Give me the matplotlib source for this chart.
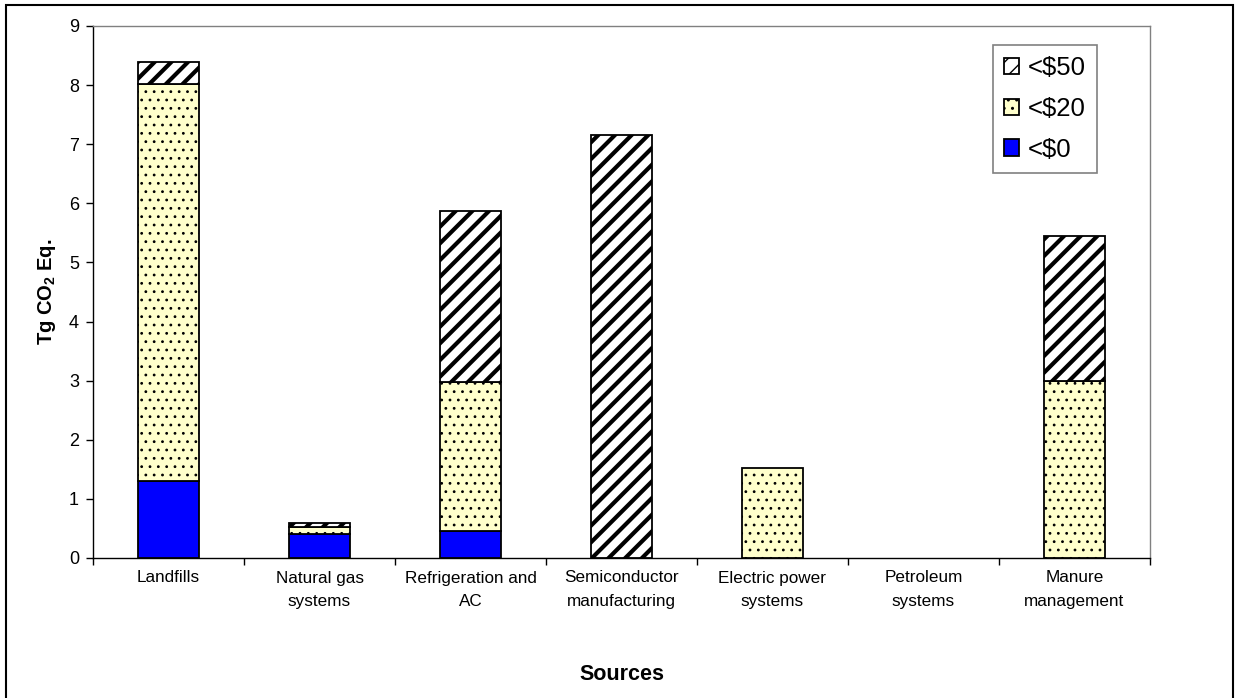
import numpy as np
import matplotlib
matplotlib.use("Agg")
import matplotlib.pyplot as plt
from matplotlib.patches import Rectangle

plt.rcParams['font.family'] = ['Liberation Sans', 'DejaVu Sans']

sources = ["Landfills", "Natural gas\nsystems", "Refrigeration and\nAC",
           "Semiconductor\nmanufacturing", "Electric power\nsystems",
           "Petroleum\nsystems", "Manure\nmanagement"]
below_0 = [1.30, 0.40, 0.45, 0.0, 0.0, 0.0, 0.0]
below_20 = [6.72, 0.13, 2.52, 0.0, 1.52, 0.0, 3.0]
below_50 = [0.37, 0.06, 2.90, 7.15, 0.0, 0.0, 2.45]
yticks = list(range(10))

W, H = 1235, 698
fig = plt.figure(figsize=(W / 100, H / 100), dpi=100)
ax = fig.add_axes([93 / W, 1 - 558 / H, (1150 - 93) / W, (558 - 26) / H])

x = np.arange(len(sources))
b0 = np.array(below_0)
b20 = np.array(below_20)
b50 = np.array(below_50)

kw = dict(width=0.4, edgecolor='black', linewidth=1.3, zorder=3)
bars0 = ax.bar(x, b0, color='#0000ff', label='<$0', **kw)
bars20 = ax.bar(x, b20, bottom=b0, color='#ffffcc', hatch='..', label='<$20', **kw)
bars50 = ax.bar(x, b50, bottom=b0 + b20, color='white', hatch='//', label='<$50', **kw)

# hide zero-height segments so they don't leave a line on the axis
for bars, vals in ((bars0, b0), (bars20, b20), (bars50, b50)):
    for bar, v in zip(bars, vals):
        if v <= 0:
            bar.set_visible(False)

# thick stripes, fine dots
for bar in bars50:
    if hasattr(bar, 'set_hatch_linewidth'):
        bar.set_hatch_linewidth(3.0)
for bar in bars20:
    if hasattr(bar, 'set_hatch_linewidth'):
        bar.set_hatch_linewidth(0.8)

ax.set_xlim(-0.5, len(sources) - 0.5)
ax.set_ylim(0, 9)
ax.set_yticks(yticks)
ax.tick_params(axis='y', direction='out', length=5, width=1, labelsize=13, pad=5)

# category boundaries get the tick marks, centres get the labels
ax.set_xticks(np.arange(len(sources) + 1) - 0.5)
ax.set_xticklabels([])
ax.set_xticks(x, minor=True)
ax.set_xticklabels(sources, minor=True, fontsize=12.3, linespacing=1.7)
ax.tick_params(axis='x', which='major', direction='out', length=5, width=1)
ax.tick_params(axis='x', which='minor', length=0, pad=9)

for side in ('top', 'right'):
    ax.spines[side].set_color('#808080')
    ax.spines[side].set_linewidth(1)
for side in ('left', 'bottom'):
    ax.spines[side].set_color('black')
    ax.spines[side].set_linewidth(1)

ax.set_ylabel('Tg CO$_\\mathregular{2}$ Eq.', fontsize=14.5, fontweight='bold', labelpad=8)
ax.set_xlabel('Sources', fontsize=15.5, fontweight='bold', labelpad=40)

handles = [bars50, bars20, bars0]
leg = ax.legend(handles, ['<$50', '<$20', '<$0'], loc='upper left',
                bbox_to_anchor=(993 / W, 1 - 45 / H), bbox_transform=fig.transFigure,
                borderaxespad=0, fontsize=18.5, handlelength=0.6, handleheight=0.6,
                handletextpad=0.35, labelspacing=0.66, borderpad=0.42,
                fancybox=False, framealpha=1, edgecolor='#808080')
leg.get_frame().set_linewidth(1.2)

# chart area border
fig.patches.append(Rectangle((6 / W, -0.1), (1233 - 6) / W, 1.1 - 5 / H,
                             transform=fig.transFigure, fill=False,
                             edgecolor='black', linewidth=1.5))

fig.savefig('out.png', dpi=100)
